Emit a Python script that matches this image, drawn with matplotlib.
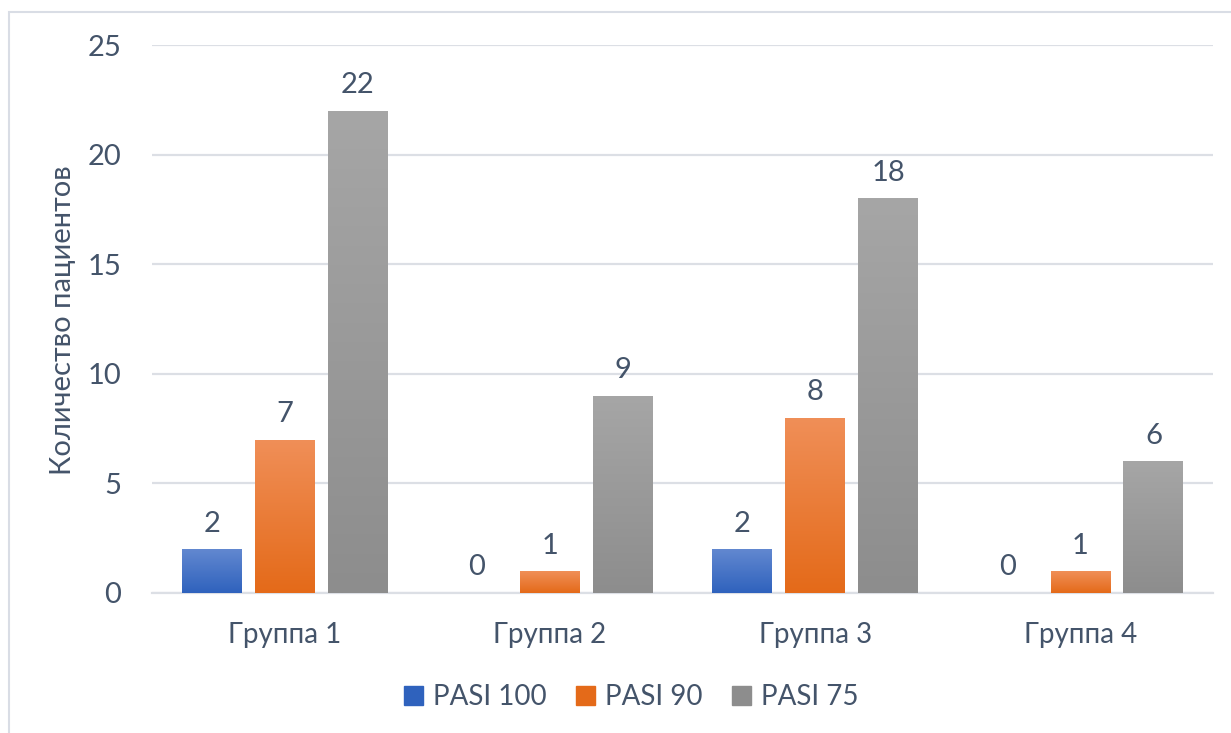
import matplotlib
matplotlib.use('Agg')
import numpy as np
import matplotlib.pyplot as plt
from matplotlib.patches import Rectangle

groups = ["Группа 1", "Группа 2", "Группа 3", "Группа 4"]
series_names = ["PASI 100", "PASI 90", "PASI 75"]
pasi_100 = [2, 0, 2, 0]
pasi_90 = [7, 1, 8, 1]
pasi_75 = [22, 9, 18, 6]

# (top colour, bottom colour) for the vertical gradient on each series
gradients = [("#6288d0", "#2f62bd"), ("#f08f58", "#e46a19"), ("#a6a6a6", "#8d8d8d")]
text_color = "#44546a"
grid_color = "#dcdfe5"

plt.rcParams['font.family'] = ['Lato', 'DejaVu Sans']

fig = plt.figure(figsize=(12.31, 7.33), dpi=100)
ax = fig.add_axes([0.1235, 0.191, 0.862, 0.7476])

# light frame around the chart area
fig.patches.append(Rectangle((9 / 1231, -0.05), 1.1, 1.05 - 12 / 733,
                             transform=fig.transFigure, fill=False,
                             edgecolor="#d9dde5", linewidth=1.5))

x = np.arange(len(groups))
offset = 0.275
width = 0.226
values = [pasi_100, pasi_90, pasi_75]

for i, (vals, name, (c_top, c_bot)) in enumerate(zip(values, series_names, gradients)):
    bars = ax.bar(x + (i - 1) * offset, vals, width, color=c_bot, label=name, zorder=2)
    grad = np.linspace(0, 1, 256).reshape(-1, 1)
    top = np.array(matplotlib.colors.to_rgb(c_top))
    bot = np.array(matplotlib.colors.to_rgb(c_bot))
    img = top * (1 - grad[..., None]) + bot * grad[..., None]
    for bar in bars:
        if bar.get_height() <= 0:
            continue
        x0, y0 = bar.get_x(), bar.get_y()
        im = ax.imshow(img, extent=(x0, x0 + bar.get_width(), y0, y0 + bar.get_height()),
                       aspect='auto', zorder=3, interpolation='bilinear')
        im.set_clip_path(bar)
    ax.bar_label(bars, labels=[str(v) for v in vals], padding=9,
                 fontsize=21, color=text_color)

ax.set_xlim(-0.5, len(groups) - 0.5)
ax.set_ylim(0, 25)
ax.set_yticks(range(0, 26, 5))
ax.set_xticks(x)
ax.set_xticklabels(groups)
ax.tick_params(axis='y', length=0, pad=22, labelsize=21, labelcolor=text_color)
ax.tick_params(axis='x', length=0, pad=21, labelsize=20, labelcolor=text_color)
ax.yaxis.grid(True, color=grid_color, linewidth=1.6, zorder=0)
ax.set_axisbelow(True)
for side in ['top', 'right', 'left']:
    ax.spines[side].set_visible(False)
ax.spines['bottom'].set_color(grid_color)
ax.spines['bottom'].set_linewidth(1.6)

fig.text(63 / 1231, 1 - 320 / 733, "Количество пациентов", rotation=90,
         ha='center', va='center', fontsize=21, color=text_color)

leg = fig.legend(loc='center', bbox_to_anchor=(631 / 1231, 1 - 697 / 733), ncol=3,
                 frameon=False, fontsize=20, handlelength=0.7, handleheight=0.7,
                 handletextpad=0.35, columnspacing=1.05, labelcolor=text_color)
for h, (c_top, c_bot) in zip(leg.legend_handles, gradients):
    h.set_color(c_bot)

fig.savefig("out.png", dpi=100)
